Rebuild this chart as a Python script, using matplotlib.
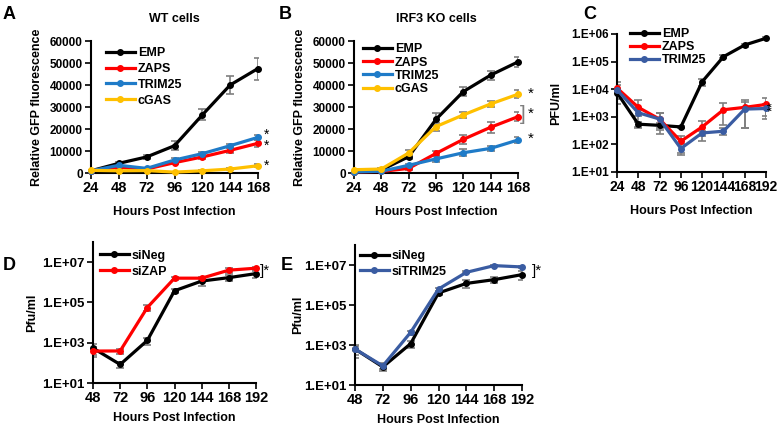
import matplotlib.pyplot as plt
import numpy as np
from matplotlib.ticker import FuncFormatter, FixedLocator

plt.rcParams["font.family"] = ["Liberation Sans", "DejaVu Sans"]
plt.rcParams["font.weight"] = "bold"
plt.rcParams["axes.labelweight"] = "bold"

BLACK = "#000000"
RED = "#ff0000"
BLUE = "#1f7bc8"
GOLD = "#ffc000"
SLATE = "#3a5ca2"
ERR = "#7f7f7f"

# panel A, WT cells
hours_ab = [24, 48, 72, 96, 120, 144, 168]
a_emp = [1000, 4400, 7300, 12400, 26400, 40000, 47500]
a_emp_err = [300, 800, 800, 2000, 2500, 4000, 5000]
a_zaps = [1000, 2700, 1800, 4700, 7300, 10300, 13500]
a_zaps_err = [300, 500, 400, 600, 800, 1200, 1500]
a_trim = [1000, 3500, 2100, 5900, 8800, 12400, 16200]
a_trim_err = [300, 600, 400, 700, 800, 900, 1000]
a_cgas = [1200, 1000, 1100, 400, 1000, 1800, 3300]
a_cgas_err = [300, 300, 300, 200, 300, 400, 600]

# panel B, IRF3 KO cells
b_emp = [500, 1400, 7400, 24400, 37000, 44500, 50500]
b_emp_err = [300, 500, 1200, 2800, 2000, 2000, 2200]
b_zaps = [500, 700, 2100, 8900, 15300, 20800, 25600]
b_zaps_err = [300, 300, 600, 1200, 2000, 2400, 2000]
b_trim = [500, 800, 3500, 6400, 9200, 11200, 15000]
b_trim_err = [300, 300, 600, 1500, 1500, 1300, 1500]
b_cgas = [1500, 1800, 9100, 21100, 26400, 31400, 35800]
b_cgas_err = [400, 500, 1500, 1800, 1500, 1500, 1800]

# panel C, PFU/ml
hours_c = [24, 48, 72, 96, 120, 144, 168, 192]
c_emp = [7500, 540, 490, 430, 18600, 150000, 400000, 700000]
c_emp_err = [3000, 100, 100, 50, 5000, 20000, 50000, 50000]
c_zaps = [11000, 2200, 820, 130, 430, 1800, 2200, 2800]
c_zaps_err = [8000, 1800, 500, 80, 300, 1300, 1800, 2000]
c_trim = [9500, 1400, 830, 71, 260, 300, 1900, 2000]
c_trim_err = [5000, 300, 600, 30, 50, 80, 1500, 900]

# panels D and E, Pfu/ml
hours_de = [48, 72, 96, 120, 144, 168, 192]
d_neg = [540, 83, 1300, 380000, 1150000, 1700000, 2700000]
d_neg_err = [300, 30, 500, 100000, 500000, 500000, 1000000]
d_zap = [385, 390, 56000, 1600000, 1600000, 4000000, 5000000]
d_zap_err = [200, 100, 20000, 300000, 300000, 1000000, 1000000]
e_neg = [630, 80, 1170, 400000, 1200000, 1850000, 3300000]
e_neg_err = [400, 30, 500, 80000, 500000, 600000, 1500000]
e_trim = [630, 90, 4300, 630000, 4300000, 9300000, 8000000]
e_trim_err = [300, 30, 1000, 100000, 500000, 800000, 800000]

W, H = 780, 426
fig = plt.figure(figsize=(7.8, 4.26), dpi=100)


def box(x0, y0, x1, y1):
    return [x0 / W, 1 - y1 / H, (x1 - x0) / W, (y1 - y0) / H]


def style(ax, xsize=10.5, ysize=8.5):
    for s in ["top", "right"]:
        ax.spines[s].set_visible(False)
    for s in ["left", "bottom"]:
        ax.spines[s].set_linewidth(1.5)
    ax.tick_params(axis="both", width=1.2, length=4, direction="out")
    ax.tick_params(axis="x", labelsize=xsize, pad=2)
    ax.tick_params(axis="y", labelsize=ysize, pad=2)
    for lab in ax.get_xticklabels() + ax.get_yticklabels():
        lab.set_fontweight("bold")


def series(ax, x, y, err, color, label):
    ax.errorbar(x, y, yerr=err, fmt="none", ecolor=ERR, elinewidth=1.2, capsize=3, capthick=1.2, zorder=2)
    ax.plot(x, y, color=color, lw=2.3, marker="o", ms=4, label=label, zorder=3, clip_on=False)


def leg(ax, bbox, spacing=0.25):
    l = ax.legend(loc="upper left", bbox_to_anchor=bbox, frameon=False, fontsize=9, handlelength=2.3,
                  handletextpad=0.25, labelspacing=spacing, borderaxespad=0)
    for t in l.get_texts():
        t.set_fontweight("bold")


def star(ax, x, y, s="*", dx=6, rot=0, size=11, color="black"):
    ax.annotate(s, (x, y), xytext=(dx, 0), textcoords="offset points", ha="left", va="center",
                fontsize=size, fontweight="normal", rotation=rot, color=color, annotation_clip=False)


def logfmt(v, pos):
    return "1.E+%02d" % int(round(np.log10(v)))


# A
axA = fig.add_axes(box(91, 41, 258, 173))
series(axA, hours_ab, a_emp, a_emp_err, BLACK, "EMP")
series(axA, hours_ab, a_zaps, a_zaps_err, RED, "ZAPS")
series(axA, hours_ab, a_trim, a_trim_err, BLUE, "TRIM25")
series(axA, hours_ab, a_cgas, a_cgas_err, GOLD, "cGAS")
axA.set_xlim(24, 168)
axA.set_ylim(0, 60000)
axA.set_xticks(hours_ab)
axA.set_yticks(np.arange(0, 60001, 10000))
axA.set_ylabel("Relative GFP fluorescence", fontsize=9, labelpad=5)
axA.set_xlabel("Hours Post Infection", fontsize=9, labelpad=8)
axA.set_title("WT cells", fontsize=9, fontweight="bold", pad=14)
style(axA)
leg(axA, (0.06, 0.99), 0.3)
star(axA, 168, a_trim[-1] + 1200, dx=4, size=10)
star(axA, 168, a_zaps[-1] - 1200, dx=4, size=10)
star(axA, 168, a_cgas[-1], dx=4, size=10)

# B
axB = fig.add_axes(box(354, 41, 518, 173))
series(axB, hours_ab, b_emp, b_emp_err, BLACK, "EMP")
series(axB, hours_ab, b_zaps, b_zaps_err, RED, "ZAPS")
series(axB, hours_ab, b_trim, b_trim_err, BLUE, "TRIM25")
series(axB, hours_ab, b_cgas, b_cgas_err, GOLD, "cGAS")
axB.set_xlim(24, 168)
axB.set_ylim(0, 60000)
axB.set_xticks(hours_ab)
axB.set_yticks(np.arange(0, 60001, 10000))
axB.set_ylabel("Relative GFP fluorescence", fontsize=9, labelpad=5)
axB.set_xlabel("Hours Post Infection", fontsize=9, labelpad=8)
axB.set_title("IRF3 KO cells", fontsize=9, fontweight="bold", pad=14)
style(axB)
leg(axB, (0.024, 1.02), 0.1)
star(axB, 168, b_zaps[-1] + 900, s="]", dx=1, size=15, color=ERR)
star(axB, 168, b_cgas[-1], dx=7)
star(axB, 168, b_zaps[-1] + 1500, dx=7)
star(axB, 168, b_trim[-1] + 500, dx=7)

# C
axC = fig.add_axes(box(617, 34, 766, 172))
series(axC, hours_c, c_emp, c_emp_err, BLACK, "EMP")
series(axC, hours_c, c_zaps, c_zaps_err, RED, "ZAPS")
series(axC, hours_c, c_trim, c_trim_err, SLATE, "TRIM25")
axC.set_yscale("log")
axC.set_xlim(24, 192)
axC.set_ylim(10, 1e6)
axC.set_xticks(hours_c)
axC.yaxis.set_major_locator(FixedLocator([1e1, 1e2, 1e3, 1e4, 1e5, 1e6]))
axC.yaxis.set_minor_locator(FixedLocator([]))
axC.yaxis.set_major_formatter(FuncFormatter(logfmt))
axC.set_ylabel("PFU/ml", fontsize=9, labelpad=6)
axC.set_xlabel("Hours Post Infection", fontsize=9, labelpad=8)
style(axC, xsize=10, ysize=8.5)
leg(axC, (0.054, 1.08), 0.1)
star(axC, 192, 2500, s="**", dx=1, rot=90, size=9)

# D
axD = fig.add_axes(box(93, 242, 256, 383))
series(axD, hours_de, d_neg, d_neg_err, BLACK, "siNeg")
series(axD, hours_de, d_zap, d_zap_err, RED, "siZAP")
axD.set_yscale("log")
axD.set_xlim(48, 192)
axD.set_ylim(10, 1e8)
axD.set_xticks(hours_de)
axD.yaxis.set_major_locator(FixedLocator([1e1, 1e3, 1e5, 1e7]))
axD.yaxis.set_minor_locator(FixedLocator([]))
axD.yaxis.set_major_formatter(FuncFormatter(logfmt))
axD.set_ylabel("Pfu/ml", fontsize=9, labelpad=3)
axD.set_xlabel("Hours Post Infection", fontsize=9, labelpad=5)
style(axD, xsize=10.5, ysize=9.5)
leg(axD, (0.012, 0.98), 0.3)
star(axD, 192, 3.6e6, s="]*", dx=3, size=11)

# E
axE = fig.add_axes(box(355, 245, 522, 385))
series(axE, hours_de, e_neg, e_neg_err, BLACK, "siNeg")
series(axE, hours_de, e_trim, e_trim_err, SLATE, "siTRIM25")
axE.set_yscale("log")
axE.set_xlim(48, 192)
axE.set_ylim(10, 1e8)
axE.set_xticks(hours_de)
axE.yaxis.set_major_locator(FixedLocator([1e1, 1e3, 1e5, 1e7]))
axE.yaxis.set_minor_locator(FixedLocator([]))
axE.yaxis.set_major_formatter(FuncFormatter(logfmt))
axE.set_ylabel("Pfu/ml", fontsize=9, labelpad=0)
axE.set_xlabel("Hours Post Infection", fontsize=9, labelpad=5)
style(axE, xsize=10.5, ysize=9.5)
leg(axE, (0.0, 1.0), 0.3)
star(axE, 192, 5.2e6, s="]*", dx=7, size=11)

# panel letters
for letter, x, y in [("A", 3, 6), ("B", 279, 6), ("C", 583, 6), ("D", 3, 257), ("E", 281, 257)]:
    fig.text(x / W, 1 - y / H, letter, fontsize=13, fontweight="bold", va="top", ha="left")

fig.savefig("out.png", dpi=100)
